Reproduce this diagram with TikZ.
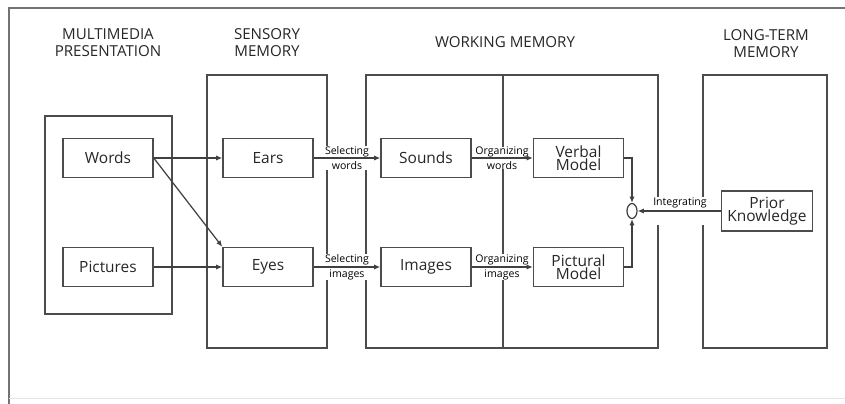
\documentclass[tikz,border=0pt]{standalone}
\usepackage{fontspec}
\setmainfont{Open Sans}
\usetikzlibrary{arrows.meta,shapes.geometric}

\begin{document}
\begin{tikzpicture}[x=0.02cm, y=-0.02cm,
	box/.style = {draw=black!70, line width=0.85pt, minimum width=1.8cm, minimum height=0.78cm, align=center, font=\fontsize{8.8}{7.5}\selectfont, text=black!85},
	wall/.style = {draw=black!70, line width=0.85pt},
	head/.style = {align=center, font=\fontsize{8.6}{9.6}\selectfont, text=black!85},
	lbl/.style = {fill=white, align=center, inner xsep=1.5pt, inner ysep=0pt, font=\fontsize{6}{8.5}\selectfont},
	arr/.style = {-{Latex[length=3.5pt,width=3pt]}, draw=black!75, line width=0.7pt}]
			\useasboundingbox (0,0) rectangle (845,404);
			\draw[black!55, line width=0.8pt] (845,8) -- (9,8) -- (9,404);
			\draw[black!10] (9,398) -- (845,398);
			% stores
			\draw[wall] (45,116) rectangle (172,314);
			\draw[wall] (207,75) rectangle (327,348);
			\draw[wall] (366,75) rectangle (658,348);
			\draw[wall] (503,75) -- (503,348);
			\draw[wall] (703,75) rectangle (827,348);
			\node[head] (mmp) at (108,43) {MULTIMEDIA\\PRESENTATION};
			\node[head] (sm) at (267,43) {SENSORY\\MEMORY};
			\node[head] (wm) at (505,42) {WORKING MEMORY};
			\node[head] (ltm) at (766,44) {LONG-TERM\\MEMORY};
			% boxes
			\node[box] (words) at (108,158) {Words};
			\node[box] (pictures) at (108,267) {Pictures};
			\node[box] (ears) at (268,158) {Ears};
			\node[box] (eyes) at (268,267) {Eyes};
			\node[box] (sounds) at (426,158) {Sounds};
			\node[box] (images) at (426,267) {Images};
			\node[box] (verbal) at (578.5,158) {Verbal\\Model};
			\node[box] (pictural) at (578.5,267) {Pictural\\Model};
			\node[box] (prior) at (767,211) {Prior\\Knowledge};
			\node[draw=black!75, line width=0.7pt, ellipse, minimum width=0.2cm, minimum height=0.3cm, inner sep=0pt] (join) at (632,211) {};
			% labels
			\node[lbl] (selw) at (347,158) {Selecting\\words};
			\node[lbl] (seli) at (347,267) {Selecting\\images};
			\node[lbl] (orgw) at (502,158) {Organizing\\words};
			\node[lbl] (orgi) at (502,267) {Organizing\\images};
			\node[lbl] (integ) at (680,211) {Integrating\\\strut};
			% arrows
			\draw[arr] (words) -- (ears);
			\draw[arr] (words.east) -- (eyes.north west);
			\draw[arr] (pictures) -- (eyes);
			\draw[arr] (ears) -- (sounds);
			\draw[arr] (eyes) -- (images);
			\draw[arr] (sounds) -- (verbal);
			\draw[arr] (images) -- (pictural);
			\draw[arr] (verbal.east) -| (join.north);
			\draw[arr] (pictural.east) -| (join.south);
			\draw[arr] (prior) -- (join);
		\end{tikzpicture}
\end{document}
